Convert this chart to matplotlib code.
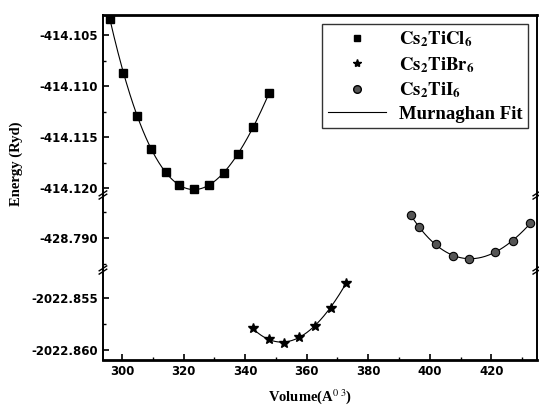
import numpy as np
import matplotlib
matplotlib.use('Agg')
import matplotlib.pyplot as plt
from matplotlib.lines import Line2D
from matplotlib.ticker import MultipleLocator, FormatStrFormatter

plt.rcParams['mathtext.fontset'] = 'stix'
plt.rcParams['font.family'] = 'DejaVu Sans'

# Cs2TiCl6 (top panel)
vol_cl = [296.1, 300.4, 305.0, 309.4, 314.2, 318.6, 323.4, 328.2, 333.1, 337.7, 342.4, 347.8]
e_cl = [-414.10346, -414.10870, -414.11291, -414.11621, -414.11840, -414.11971,
        -414.12013, -414.11971, -414.11856, -414.11667, -414.11405, -414.11072]

# Cs2TiI6 (middle panel)
vol_i = [393.8, 396.5, 402.1, 407.5, 412.7, 421.1, 427.0, 432.7]
e_i = [-428.78779, -428.78897, -428.79061, -428.79170, -428.79205, -428.79132,
       -428.79026, -428.78859]

# Cs2TiBr6 (bottom panel)
vol_br = [342.4, 347.7, 352.6, 357.4, 362.6, 367.8, 372.9]
e_br = [-2022.85791, -2022.85897, -2022.85930, -2022.85878, -2022.85766,
        -2022.85593, -2022.85353]

fig = plt.figure(figsize=(5.39, 4.09), dpi=100)
gs = fig.add_gridspec(3, 1, height_ratios=[180, 75, 90], hspace=0)
fig.subplots_adjust(left=0.191, right=0.996, top=0.963, bottom=0.120)
ax_top = fig.add_subplot(gs[0])
ax_mid = fig.add_subplot(gs[1], sharex=ax_top)
ax_bot = fig.add_subplot(gs[2], sharex=ax_top)

def fit_curve(ax, x, y):
    # smooth fit line through the points
    p = np.polyfit(x, y, 3)
    xx = np.linspace(min(x), max(x), 200)
    ax.plot(xx, np.polyval(p, xx), color='k', lw=0.8, zorder=1)

fit_curve(ax_top, vol_cl, e_cl)
ax_top.plot(vol_cl, e_cl, ls='none', marker='s', ms=5.5, color='k', zorder=3)

fit_curve(ax_mid, vol_i, e_i)
ax_mid.plot(vol_i, e_i, ls='none', marker='o', ms=6, mfc='#555555', mec='k', mew=0.8, zorder=3)

fit_curve(ax_bot, vol_br, e_br)
ax_bot.plot(vol_br, e_br, ls='none', marker='*', ms=7, color='k', zorder=3)

ax_top.set_xlim(293.8, 434.8)
ax_top.set_ylim(-414.12069, -414.10304)
ax_mid.set_ylim(-428.79308, -428.78587)
ax_bot.set_ylim(-2022.86096, -2022.85231)

ax_top.yaxis.set_major_locator(MultipleLocator(0.005))
ax_top.yaxis.set_minor_locator(MultipleLocator(0.0025))
ax_mid.set_yticks([-428.790])
ax_mid.set_yticks([-428.7925, -428.7875], minor=True)
ax_bot.set_yticks([-2022.855, -2022.860])
ax_bot.set_yticks([-2022.8575], minor=True)
ax_bot.xaxis.set_major_locator(MultipleLocator(20))
ax_bot.xaxis.set_minor_locator(MultipleLocator(10))

for ax in (ax_top, ax_mid, ax_bot):
    ax.yaxis.set_major_formatter(FormatStrFormatter('%.3f'))
    ax.tick_params(axis='both', which='major', direction='in', length=4, width=1.2,
                   labelsize=8.5, right=False, top=False)
    ax.tick_params(axis='both', which='minor', direction='in', length=2, width=1.0,
                   right=False, top=False)
    for lbl in ax.get_yticklabels() + ax.get_xticklabels():
        lbl.set_fontweight('bold')
    for s in ax.spines.values():
        s.set_linewidth(1.4)

ax_top.spines['bottom'].set_visible(False)
ax_mid.spines['top'].set_visible(False)
ax_mid.spines['bottom'].set_visible(False)
ax_bot.spines['top'].set_visible(False)
ax_top.tick_params(axis='x', which='both', bottom=False, labelbottom=False)
ax_mid.tick_params(axis='x', which='both', bottom=False, labelbottom=False)
ax_top.spines['top'].set_linewidth(2.0)
ax_bot.spines['bottom'].set_linewidth(2.0)

# break marks "//" on left and right spines
y1 = 1 - 195 / 409
y2 = 1 - 270 / 409
x0 = 0.191
x1 = 0.996
for yb in (y1, y2):
    for xs in (x0, x1):
        for off in (-0.004, 0.004):
            fig.add_artist(Line2D([xs - 0.007, xs + 0.007], [yb + off - 0.006, yb + off + 0.006],
                                  transform=fig.transFigure, color='k', lw=1.0))

fig.text(0.03, 0.60, 'Energy (Ryd)', rotation=90, va='center', ha='center',
         family='Liberation Serif', fontweight='bold', fontsize=10.5)
fig.text(0.575, 0.03, r'Volume(A$^{0\ 3}$)', va='center', ha='center',
         family='Liberation Serif', fontweight='bold', fontsize=10.5)

handles = [Line2D([], [], ls='none', marker='s', ms=5, color='k'),
           Line2D([], [], ls='none', marker='*', ms=6, color='k'),
           Line2D([], [], ls='none', marker='o', ms=5.5, mfc='#555555', mec='k'),
           Line2D([], [], color='k', lw=0.8)]
labels = [r'$\mathbf{Cs_2TiCl_6}$', r'$\mathbf{Cs_2TiBr_6}$', r'$\mathbf{Cs_2TiI_6}$',
          'Murnaghan Fit']
leg = ax_top.legend(handles, labels, loc='upper right', bbox_to_anchor=(528 / 539, 1 - 24 / 409),
                    bbox_transform=fig.transFigure, borderaxespad=0, frameon=True, fancybox=False,
                    edgecolor='k', handlelength=3.1, labelspacing=0.3, borderpad=0.3,
                    handletextpad=0.7, prop={'family': 'Liberation Serif', 'weight': 'bold', 'size': 13.5})
leg.get_frame().set_linewidth(1.0)

plt.savefig('out.png', dpi=100)
